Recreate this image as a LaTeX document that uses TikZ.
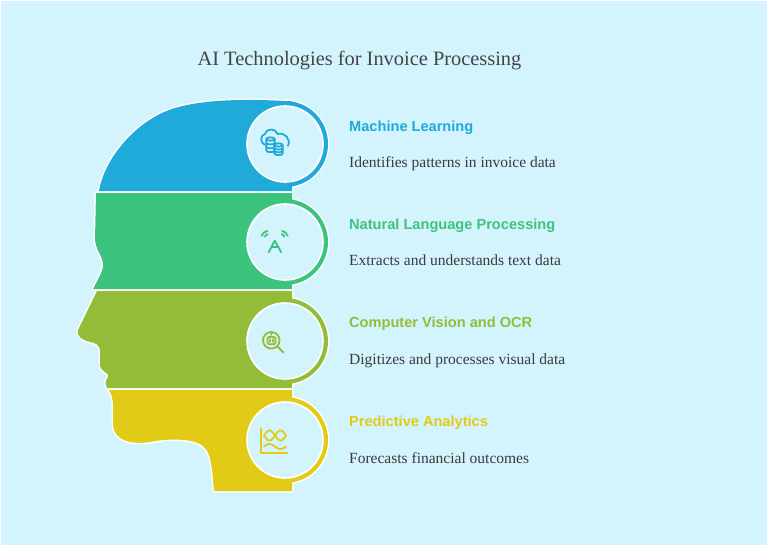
\documentclass[tikz,border=0pt]{standalone}
\usepackage{fontspec}
\setmainfont{Liberation Serif}
\newfontfamily\headfont{Liberation Sans}
\definecolor{bgcyan}{HTML}{D3F4FD}
\definecolor{mlblue}{HTML}{1FAAD9}
\definecolor{nlpgreen}{HTML}{3CC47F}
\definecolor{cvolive}{HTML}{93BD39}
\definecolor{payellow}{HTML}{E1CB17}
\definecolor{titlegray}{HTML}{444444}
\definecolor{descgray}{HTML}{3A3A3A}
\tikzset{
  halo/.style={draw=white, line width=3pt, line join=round},
  ring/.style={fill=bgcyan, draw=white, line width=1.6pt},
  icon/.style={line width=1.8pt, line cap=round, line join=round},
  heading/.style={anchor=base west, inner sep=0pt, font=\headfont\bfseries\fontsize{14.6}{17}\selectfont},
  desc/.style={anchor=base west, inner sep=0pt, text=descgray, font=\fontsize{15.5}{18}\selectfont}
}
% the four parts of the head, pixel coordinates, y down
\newcommand{\bandml}{(99,191) .. controls (104,160) and (135,120) .. (175,108) .. controls (205,99) and (250,99) .. (285,101) -- (292,101) -- (292,191) -- cycle}
\newcommand{\bandnlp}{(96,193) -- (292,193) -- (292,289) -- (93,289) .. controls (98,279) and (104,270) .. (103,263) .. controls (102,256) and (96,250) .. (95,240) -- cycle}
\newcommand{\bandcv}{(97,291) -- (292,291) -- (292,388) -- (107,388) .. controls (105,384) and (105,381) .. (108,377) .. controls (110,373) and (101,372) .. (100,366) -- (100,352) .. controls (100,345) and (96,343) .. (90,342) .. controls (82,340) and (76,336) .. (78,330) -- cycle}
\newcommand{\bandpa}{(109,390) -- (292,390) -- (292,491) -- (214,491) .. controls (212,470) and (212,450) .. (200,444) .. controls (190,439) and (170,438) .. (150,442) .. controls (130,445) and (114,440) .. (113,425) -- (113,405) .. controls (113,398) and (111,394) .. (109,390) -- cycle}
\begin{document}
\begin{tikzpicture}[x=1pt, y=-1pt]
  \useasboundingbox (0,0) rectangle (768,546);
  \fill[bgcyan] (0,0) rectangle (768,546);
  \draw[white, line width=1pt] (0.5,0.5) rectangle (767.5,545.5);

  \coordinate (mlc) at (285,144);
  \coordinate (nlpc) at (285,242);
  \coordinate (cvc) at (285,341);
  \coordinate (pac) at (285,440);

  % white edges first, colours on top
  \path[halo] \bandml;
  \path[halo] \bandnlp;
  \path[halo] \bandcv;
  \path[halo] \bandpa;
  \path[halo] (mlc) circle (43);
  \path[halo] (nlpc) circle (43);
  \path[halo] (cvc) circle (43);
  \path[halo] (pac) circle (43);

  \fill[mlblue] \bandml;
  \fill[mlblue] (mlc) circle (43);
  \fill[nlpgreen] \bandnlp;
  \fill[nlpgreen] (nlpc) circle (43);
  \fill[cvolive] \bandcv;
  \fill[cvolive] (cvc) circle (43);
  \fill[payellow] \bandpa;
  \fill[payellow] (pac) circle (43);

  \path[ring] (mlc) circle (38);
  \path[ring] (nlpc) circle (38);
  \path[ring] (cvc) circle (38);
  \path[ring] (pac) circle (38);

  % cloud with databases
  \begin{scope}[shift={(mlc)}, draw=mlblue, icon]
    \draw (-20,1) .. controls (-25,-1) and (-25,-9) .. (-20,-10) .. controls (-19,-16) and (-9,-16) .. (-7.5,-10) .. controls (0,-12) and (6,-5) .. (3,2);
    \filldraw[fill=bgcyan] (-18.7,-5) -- (-18.7,6.5) .. controls (-18.7,8.7) and (-10.3,8.7) .. (-10.3,6.5) -- (-10.3,-5) .. controls (-10.3,-7.2) and (-18.7,-7.2) .. (-18.7,-5) -- cycle;
    \draw (-18.7,-5) .. controls (-18.7,-2.8) and (-10.3,-2.8) .. (-10.3,-5);
    \draw (-18.7,-1.2) .. controls (-18.7,1) and (-10.3,1) .. (-10.3,-1.2);
    \draw (-18.7,2.7) .. controls (-18.7,4.9) and (-10.3,4.9) .. (-10.3,2.7);
    \filldraw[fill=bgcyan] (-10.7,1) -- (-10.7,9.5) .. controls (-10.7,11.7) and (-2.3,11.7) .. (-2.3,9.5) -- (-2.3,1) .. controls (-2.3,-1.2) and (-10.7,-1.2) .. (-10.7,1) -- cycle;
    \draw (-10.7,1) .. controls (-10.7,3.2) and (-2.3,3.2) .. (-2.3,1);
    \draw (-10.7,3.9) .. controls (-10.7,6.1) and (-2.3,6.1) .. (-2.3,3.9);
    \draw (-10.7,6.7) .. controls (-10.7,8.9) and (-2.3,8.9) .. (-2.3,6.7);
  \end{scope}

  % letter with signal arcs
  \begin{scope}[shift={(nlpc)}, draw=nlpgreen, icon]
    \draw (-16.3,10.3) -- (-10.3,-1.3) -- (-3.7,10.3);
    \draw (-13.7,5.3) -- (-6.6,5.3);
    \draw (-17,-4.5) ++(195:3.2) arc (195:265:3.2);
    \draw (-17,-4.5) ++(195:6.5) arc (195:265:6.5);
    \draw (-3.6,-4.5) ++(275:3.2) arc (275:345:3.2);
    \draw (-3.6,-4.5) ++(275:6.5) arc (275:345:6.5);
  \end{scope}

  % robot under a magnifier
  \begin{scope}[shift={(cvc)}, draw=cvolive, icon]
    \draw (-13.7,-0.7) circle (8.3);
    \draw (-7.8,5.2) -- (-1.5,11.5);
    \draw[rounded corners=1.5pt] (-17.5,-4) rectangle (-9.5,3.3);
    \draw (-15,-1.5) -- (-15,0.8);
    \draw (-12,-1.5) -- (-12,0.8);
    \draw (-13.5,-4) -- (-13.5,-6.5);
    \fill[cvolive] (-13.5,-7.6) circle (1.4);
  \end{scope}

  % chart with waves
  \begin{scope}[shift={(pac)}, draw=payellow, icon]
    \draw (-23.7,-12) -- (-23.7,13) -- (2.3,13);
    \draw plot[domain=-21:1, samples=40, smooth] (\x, {-4.5+5*sin(180*(\x+21)/11)});
    \draw plot[domain=-21:1, samples=40, smooth] (\x, {-4.5-5*sin(180*(\x+21)/11)});
    \draw plot[domain=-21:1, samples=40, smooth] (\x, {6.5-2.5*sin(180*(\x+21)/11)});
  \end{scope}

  \node[anchor=base, inner sep=0pt, text=titlegray, font=\fontsize{20.4}{24}\selectfont] (title) at (359.5,65) {AI Technologies for Invoice Processing};

  \node[heading, text=mlblue] (mlhead) at (349,131) {Machine Learning};
  \node[desc] (mldesc) at (349,167) {Identifies patterns in invoice data};
  \node[heading, text=nlpgreen] (nlphead) at (349,229) {Natural Language Processing};
  \node[desc] (nlpdesc) at (349,265) {Extracts and understands text data};
  \node[heading, text=cvolive] (cvhead) at (349,327.5) {Computer Vision and OCR};
  \node[desc] (cvdesc) at (349,364) {Digitizes and processes visual data};
  \node[heading, text=payellow] (pahead) at (349,426.5) {Predictive Analytics};
  \node[desc] (padesc) at (349,463) {Forecasts financial outcomes};
\end{tikzpicture}
\end{document}
